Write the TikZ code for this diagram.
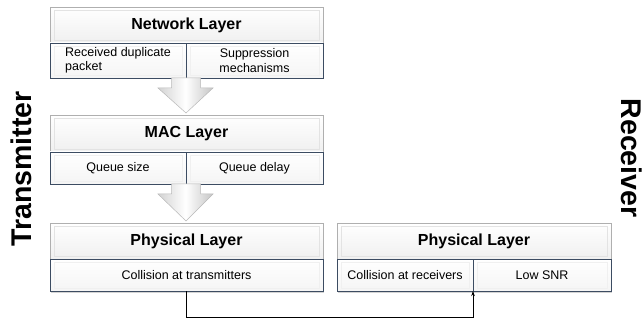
\documentclass[tikz,border=0pt]{standalone}
\usepackage{fontspec}
\setmainfont{Liberation Sans}
\usetikzlibrary{shadows,arrows.meta,calc}
\definecolor{slate}{RGB}{60,76,98}
\definecolor{hdrline}{RGB}{175,175,175}
\tikzset{
  box/.style={rectangle, inner sep=0pt, outer sep=0pt},
  bevel/.style={path picture={
    \draw[gray!#1, line width=0.8pt]
      ($(path picture bounding box.south west)+(4,-3)$) rectangle
      ($(path picture bounding box.north east)+(-4,3)$);}},
  hdr/.style={box, draw=hdrline, top color=white, bottom color=gray!12, bevel=22,
    drop shadow={opacity=0.35, shadow xshift=0.8pt, shadow yshift=-1.5pt},
    font=\fontsize{16}{19}\selectfont\bfseries, text=black},
  sub/.style={box, draw=slate, line width=0.7pt, top color=white, bottom color=gray!8, bevel=12,
    drop shadow={opacity=0.35, shadow xshift=0.8pt, shadow yshift=-1.5pt},
    font=\fontsize{12.5}{14.5}\selectfont, text=black, align=center},
  side/.style={font=\fontsize{28.5}{30}\selectfont\bfseries, inner sep=0pt},
  blockarrow/.style={draw=gray!55, line width=0.5pt, left color=gray!35, right color=gray!45, middle color=white},
  link/.style={draw=black, line width=0.6pt, -{Stealth[length=5pt,width=3.5pt]}}
}
\begin{document}
\begin{tikzpicture}[x=1pt,y=-1pt]
\useasboundingbox (0,0) rectangle (644,320);
% Network layer
\node[hdr, minimum width=273pt, minimum height=36pt] (nh) at (186.5,25) {Network Layer};
\node[sub, minimum width=136pt, minimum height=35pt] (nl) at (118,60.5) {\begin{tabular}{@{}l@{}}Received duplicate\\packet\end{tabular}};
\node[sub, minimum width=137pt, minimum height=35pt] (nr) at (254.5,60.5) {Suppression\\mechanisms};
% MAC layer
\node[hdr, minimum width=273pt, minimum height=37pt] (mh) at (186.5,133.5) {MAC Layer};
\node[sub, minimum width=136pt, minimum height=32pt] (ml) at (118,168) {Queue size};
\node[sub, minimum width=137pt, minimum height=32pt] (mr) at (254.5,168) {Queue delay};
% Physical TX
\node[hdr, minimum width=273pt, minimum height=36pt] (ph) at (186.5,241) {Physical Layer};
\node[sub, minimum width=273pt, minimum height=32pt] (ps) at (186.5,275) {Collision at transmitters};
% Physical RX
\node[hdr, minimum width=274pt, minimum height=36pt] (rh) at (474,241) {Physical Layer};
\node[sub, minimum width=136pt, minimum height=32pt] (rl) at (405,275) {Collision at receivers};
\node[sub, minimum width=138pt, minimum height=32pt] (rr) at (542,275) {Low SNR};
% side labels
\node[side, rotate=90] (tx) at (21,169) {Transmitter};
\node[side, rotate=-90] (rx) at (631.5,158) {Receiver};
% block arrows
\foreach \s/\t in {nl/mh, ml/ph}{
  \path (\s.south east) coordinate (a0) (\t.north) coordinate (a1);
  \path[blockarrow]
    let \p0=(a0), \p1=(a1) in
    (\x0-14.5,\y0) -- (\x0+14.5,\y0) -- (\x0+14.5,\y0-10) -- (\x0+27,\y0-10)
    -- (\x0,\y1+2) -- (\x0-28,\y0-10) -- (\x0-14.5,\y0-10) -- cycle;
}
% connector
\draw[link] (ps.south) -- ++(0,26) -| (rl.south east);
\end{tikzpicture}
\end{document}
